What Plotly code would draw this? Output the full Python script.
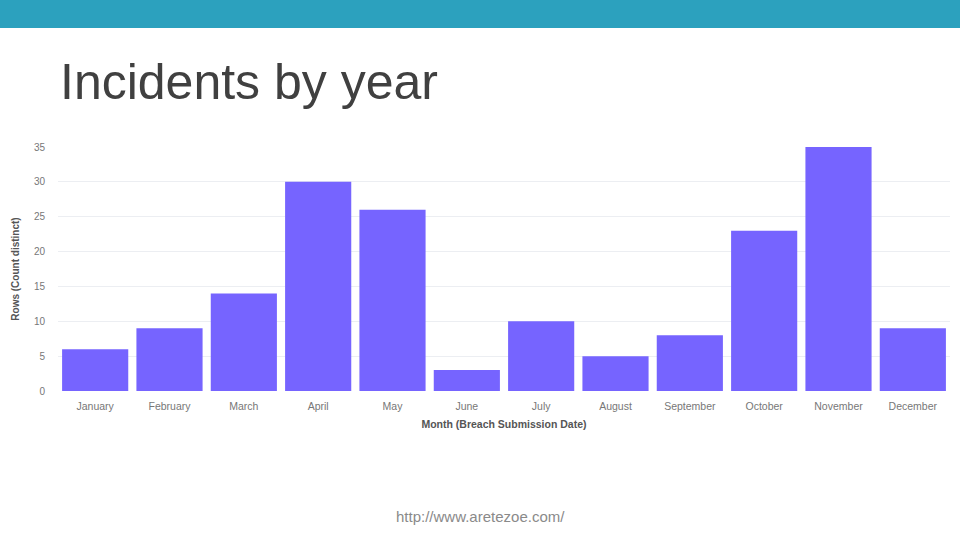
import plotly.graph_objects as go

months = ["January", "February", "March", "April", "May", "June", "July",
          "August", "September", "October", "November", "December"]
counts = [6, 9, 14, 30, 26, 3, 10, 5, 8, 23, 35, 9]
y_ticks = [0, 5, 10, 15, 20, 25, 30, 35]

W, H = 960, 540
L, R, T, B = 58, 950, 147, 391

fig = go.Figure(go.Bar(x=months, y=counts, marker=dict(color="#7664FF", line=dict(width=0))))

fig.update_layout(
    width=W, height=H,
    margin=dict(l=L, r=W - R, t=T, b=H - B),
    paper_bgcolor="white", plot_bgcolor="white",
    bargap=0.11, showlegend=False,
    font=dict(family="Liberation Sans, Arial, sans-serif", color="#777777", size=10),
    xaxis=dict(
        title=dict(text="<b>Month (Breach Submission Date)</b>", font=dict(size=10.5, color="#555555", family="Liberation Sans, Arial"), standoff=10),
        tickfont=dict(size=10.5, color="#777777"), showgrid=False, zeroline=False, showline=False,
        ticks="", ticklen=0, ticklabelstandoff=7,
    ),
    yaxis=dict(
        title=dict(text="<b>Rows (Count distinct)</b>", font=dict(size=10, color="#555555", family="Liberation Sans, Arial"), standoff=12),
        range=[0, 35], tickvals=y_ticks, tickfont=dict(size=10, color="#777777"),
        showgrid=True, gridcolor="#ECEEF2", gridwidth=1, zeroline=False, ticks="", ticklabelstandoff=12,
    ),
    shapes=[dict(type="rect", xref="paper", yref="paper", x0=-L / (R - L), x1=(W - L) / (R - L),
                 y0=B / (B - T), y1=(B - 28) / (B - T),
                 fillcolor="#2CA1BE", line=dict(width=0), layer="above")],
    annotations=[
        dict(text="Incidents by year", xref="paper", yref="paper",
             x=(58 - L) / (R - L), y=(B - 82) / (B - T), xanchor="left", yanchor="middle",
             showarrow=False, font=dict(size=50, color="#404040", family="Liberation Sans, Arial")),
        dict(text="http://www.aretezoe.com/", xref="paper", yref="paper",
             x=(480 - L) / (R - L), y=(B - 516) / (B - T), xanchor="center", yanchor="middle",
             showarrow=False, font=dict(size=15, color="#8A8A8A", family="Liberation Sans, Arial")),
    ],
)

fig.write_html("out.html", config={"displayModeBar": False},
               post_script="document.body.style.margin='0';document.body.style.overflow='hidden';")
